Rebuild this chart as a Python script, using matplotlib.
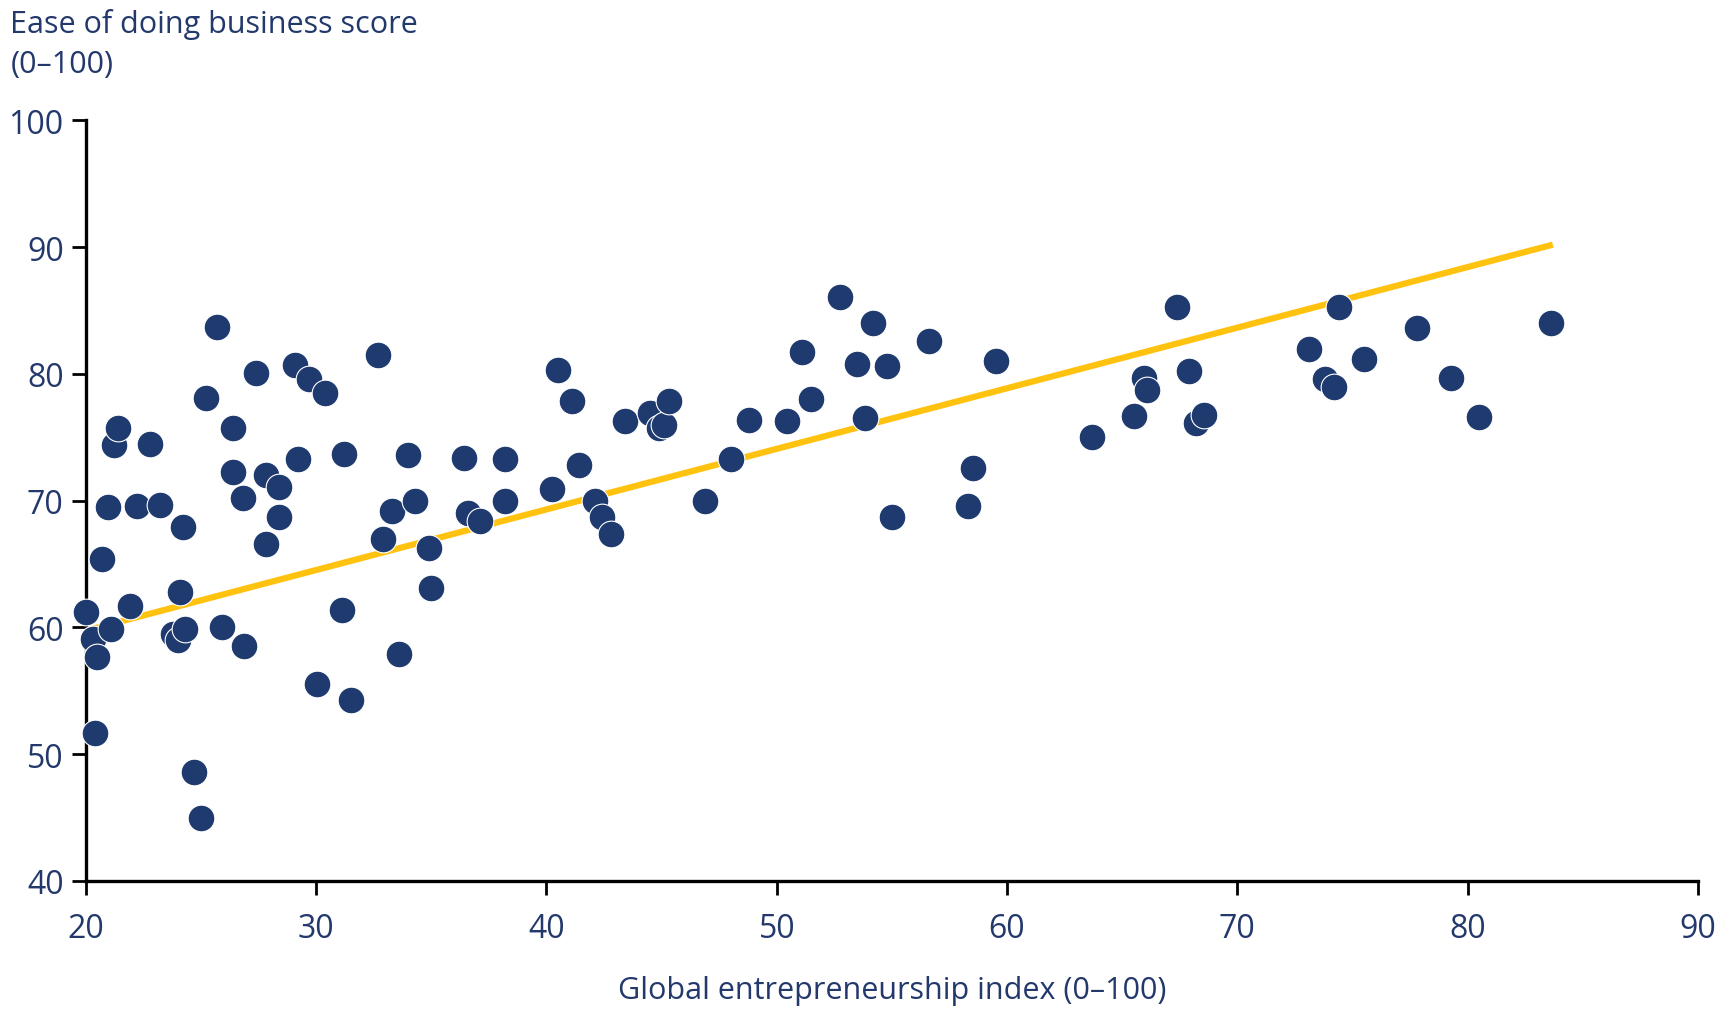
import matplotlib
matplotlib.use("Agg")
import matplotlib.pyplot as plt
from matplotlib import font_manager

# ---- data ----
gei = [20.0, 20.3, 20.5, 20.4, 20.7, 20.96, 21.1, 21.2, 21.4, 21.9,
       22.2, 22.8, 23.2, 23.8, 24.0, 24.3, 24.1, 24.2, 24.7, 25.0,
       25.2, 25.7, 25.9, 26.4, 26.4, 26.8, 26.85, 27.4, 27.8, 27.8,
       28.4, 28.4, 29.1, 29.2, 29.7, 30.05, 30.4, 31.1, 31.2, 31.5,
       32.7, 32.9, 33.3, 33.6, 34.0, 34.3, 34.9, 35.0, 36.4, 36.6,
       37.1, 38.2, 38.2, 40.25, 40.5, 41.1, 41.4, 42.1, 42.4, 42.8,
       43.4, 44.5, 44.9, 45.1, 45.3, 46.9, 48.0, 48.8, 50.45, 51.1,
       51.5, 52.75, 53.5, 53.85, 54.2, 54.8, 55.0, 56.6, 58.3, 58.5,
       59.5, 63.7, 65.5, 65.96, 66.06, 67.4, 67.9, 68.2, 68.55, 73.1,
       73.8, 74.2, 74.4, 75.5, 77.8, 79.3, 80.5, 83.6]
ease = [61.2, 59.1, 57.7, 51.7, 65.4, 69.5, 59.9, 74.4, 75.7, 61.7,
        69.6, 74.5, 69.7, 59.5, 59.0, 59.9, 62.8, 67.9, 48.6, 45.0,
        78.1, 83.7, 60.0, 72.3, 75.7, 70.2, 58.5, 80.1, 66.6, 72.0,
        71.1, 68.7, 80.7, 73.3, 79.6, 55.5, 78.5, 61.4, 73.7, 54.3,
        81.5, 67.0, 69.2, 57.9, 73.6, 70.0, 66.3, 63.1, 73.4, 69.0,
        68.4, 73.3, 70.0, 70.9, 80.3, 77.9, 72.8, 70.0, 68.7, 67.4,
        76.3, 76.9, 75.7, 76.0, 77.9, 70.0, 73.3, 76.4, 76.3, 81.7,
        78.0, 86.1, 80.8, 76.5, 84.0, 80.6, 68.7, 82.6, 69.6, 72.6,
        81.0, 75.0, 76.7, 79.7, 78.7, 85.3, 80.2, 76.1, 76.8, 82.0,
        79.6, 79.0, 85.3, 81.2, 83.6, 79.7, 76.6, 84.0]
trend_x = [20.1, 83.7]
trend_y = [59.8, 90.2]
x_ticks = [20, 30, 40, 50, 60, 70, 80, 90]
y_ticks = [40, 50, 60, 70, 80, 90, 100]

navy = "#1F3A6E"
text_col = "#23386B"
gold = "#FFC20E"

avail = {f.name for f in font_manager.fontManager.ttflist}
fam = [f for f in ["Liberation Sans Narrow", "Open Sans", "DejaVu Sans"] if f in avail]
plt.rcParams["font.family"] = fam

fig = plt.figure(figsize=(17.29, 10.12), dpi=100)
ax = fig.add_axes([0.0497, 0.1285, 0.9323, 0.7515])

ax.plot(trend_x, trend_y, color=gold, lw=4.5, solid_capstyle="butt", zorder=2)
ax.scatter(gei, ease, s=370, color=navy, edgecolors="white", linewidths=0.8,
           zorder=3, clip_on=False)

ax.set_xlim(20, 90)
ax.set_ylim(40, 100)
ax.set_xticks(x_ticks)
ax.set_yticks(y_ticks)
for s in ["top", "right"]:
    ax.spines[s].set_visible(False)
for s in ["left", "bottom"]:
    ax.spines[s].set_linewidth(2.4)
    ax.spines[s].set_color("black")
ax.tick_params(axis="both", direction="out", length=10, width=2, color="black",
               labelsize=23, labelcolor=text_col)
ax.tick_params(axis="x", pad=12)
ax.tick_params(axis="y", pad=6)

fig.text(0.006, 0.991, "Ease of doing business score\n(0\u2013100)", ha="left", va="top",
         fontsize=22, color=text_col, linespacing=1.45)
fig.text(0.516, 0.006, "Global entrepreneurship index (0\u2013100)", ha="center",
         va="bottom", fontsize=22, color=text_col)

fig.savefig("out.png", dpi=100)
